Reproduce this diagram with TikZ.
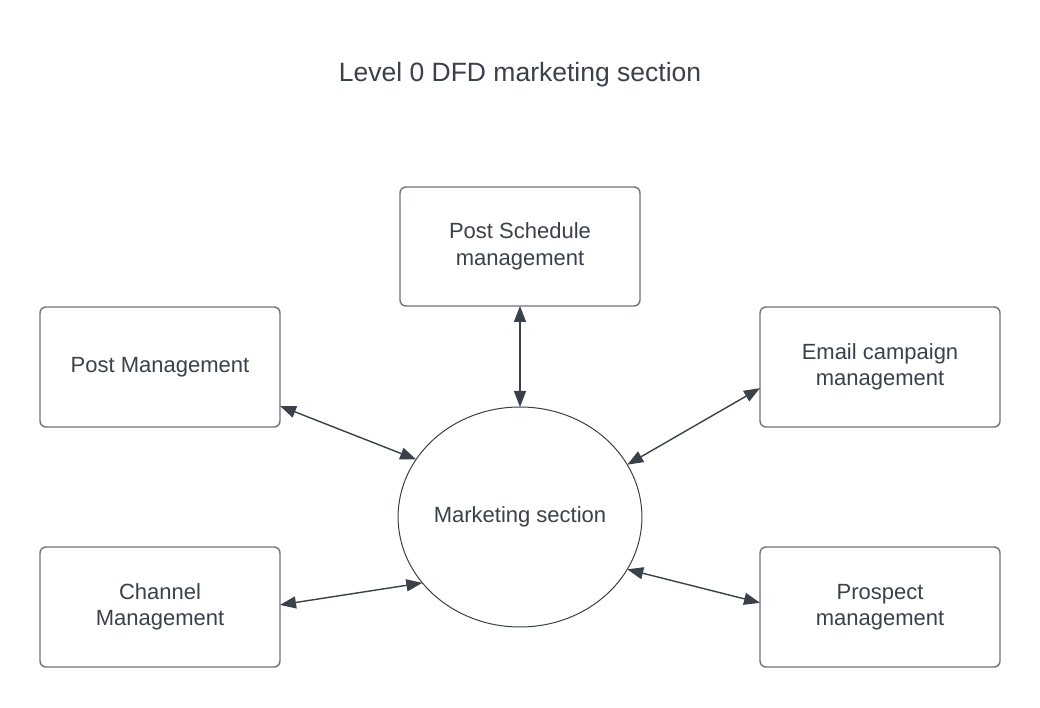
\documentclass[tikz,border=0pt]{standalone}
\usepackage{fontspec}
\setmainfont{Liberation Sans}
\usetikzlibrary{arrows.meta,shapes.geometric}
\definecolor{txt}{HTML}{3A414A}
\definecolor{boxline}{HTML}{6E747C}
\begin{document}
\begin{tikzpicture}[x=1pt,y=1pt,
  procbox/.style={draw=boxline,line width=1.4pt,rounded corners=6pt,minimum width=240pt,minimum height=120pt,inner sep=0pt,outer sep=0pt,align=center,text=txt,font=\fontsize{22}{26.5}\selectfont},
  proc/.style={draw=txt,line width=1pt,ellipse,minimum width=239pt,minimum height=220pt,inner sep=0pt,outer sep=0pt,text=txt,font=\fontsize{22}{26.5}\selectfont},
  flow/.style={draw=txt,line width=1.4pt,{Triangle[length=16pt,width=12pt]}-{Triangle[length=16pt,width=12pt]}}]
\useasboundingbox[fill=white] (0,0) rectangle (1040,707);
\node[text=txt,font=\fontsize{26.5}{30}\selectfont] (title) at (520,632) {Level 0 DFD marketing section};
\node[procbox,minimum height=119pt] (ps) at (520,460.5) {Post Schedule\\management};
\node[procbox] (pm) at (160,340) {Post Management};
\node[procbox] (ec) at (880,340) {Email campaign\\management};
\node[procbox] (cm) at (160,100) {Channel\\Management};
\node[procbox] (pr) at (880,100) {Prospect\\management};
\node[proc] (ms) at (520,190) {Marketing section};
\draw[flow] (ps.south) -- (ms.north);
\draw[flow] (pm.-18.9) -- (ms.151.9);
\draw[flow] (ec.190.4) -- (ms.26.3);
\draw[flow] (cm.1) -- (ms.214.2);
\draw[flow] (pr.178.6) -- (ms.-26.8);
\end{tikzpicture}
\end{document}
